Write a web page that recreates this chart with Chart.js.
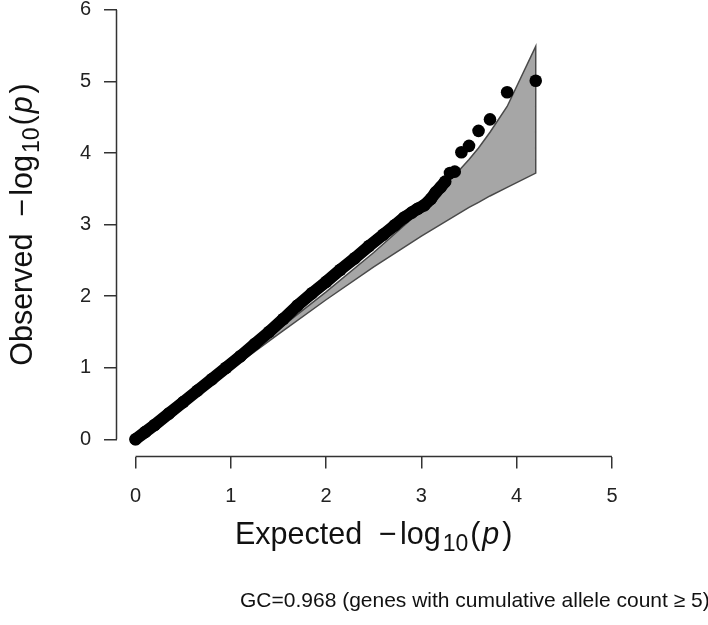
<!DOCTYPE html>
<html>
<head>
<meta charset="utf-8">
<title>QQ plot</title>
<script src="https://cdn.jsdelivr.net/npm/chart.js@4.4.1/dist/chart.umd.min.js"></script>
<style>
  html, body { margin: 0; padding: 0; background: #fff; }
  canvas { display: block; }
</style>
</head>
<body>
<canvas id="qq-plot" width="708" height="625"></canvas>
<script>
const xTicks = [0, 1, 2, 3, 4, 5];
const yTicks = [0, 1, 2, 3, 4, 5, 6];

// bulk of the genes, so many points they merge into one thick line
const denseExpected = [0.00, 0.10, 0.20, 0.35, 0.50, 0.65, 0.80, 0.95, 1.10, 1.25, 1.40, 1.55, 1.70, 1.85, 2.00, 2.15, 2.30, 2.45, 2.60, 2.72, 2.82, 2.90, 2.96, 3.03, 3.10, 3.15, 3.20, 3.25];
const denseObserved = [0.00, 0.10, 0.20, 0.36, 0.52, 0.68, 0.84, 1.00, 1.16, 1.33, 1.50, 1.68, 1.87, 2.04, 2.20, 2.37, 2.53, 2.70, 2.86, 2.99, 3.10, 3.17, 3.22, 3.27, 3.36, 3.45, 3.52, 3.60];

// the separate top hits
const tailExpected = [3.30, 3.35, 3.42, 3.50, 3.60, 3.72, 3.90, 4.20];
const tailObserved = [3.72, 3.74, 4.01, 4.10, 4.31, 4.47, 4.85, 5.01];

// shaded band around the null expectation
const bandExpected = [0, 1.0, 1.5, 2.0, 2.5, 3.0, 3.2, 3.5, 3.6, 3.72, 3.9, 4.2];
const bandUpper = [0, 1.018, 1.535, 2.06, 2.61, 3.2, 3.47, 3.91, 4.07, 4.29, 4.65, 5.49];
const bandLower = [0, 0.982, 1.47, 1.95, 2.41, 2.84, 3.0, 3.24, 3.31, 3.40, 3.52, 3.72];

const footnote = "GC=0.968 (genes with cumulative allele count \u2265 5)";

const fontFamily = "'Liberation Sans', Arial, sans-serif";
Chart.defaults.font.family = fontFamily;

function toPoints(xs, ys) {
  return xs.map((x, i) => ({ x: x, y: ys[i] }));
}

// band outline: along the upper edge, then back along the lower edge
const bandShape = toPoints(bandExpected, bandUpper)
  .concat(toPoints(bandExpected, bandLower).reverse());

// "<word>  -log10(p)" with a lowered 10 and italic p, centred on cx
function drawLogTitle(ctx, word, cx, baseY) {
  const parts = [
    { text: word + "  \u2212", size: 30.5, dy: 0, gap: 3 },
    { text: "log", size: 30.5, dy: 0, gap: 2 },
    { text: "10", size: 23, dy: 7, gap: 2 },
    { text: "(", size: 30.5, dy: 0, gap: 2 },
    { text: "p", size: 30.5, dy: 0, gap: 3, italic: true },
    { text: ")", size: 30.5, dy: 0, gap: 0 }
  ];
  let total = 0;
  parts.forEach(p => {
    ctx.font = (p.italic ? "italic " : "") + p.size + "px " + fontFamily;
    p.w = ctx.measureText(p.text).width;
    total += p.w + p.gap;
  });
  let x = cx - total / 2;
  ctx.textAlign = "left";
  ctx.textBaseline = "alphabetic";
  parts.forEach(p => {
    ctx.font = (p.italic ? "italic " : "") + p.size + "px " + fontFamily;
    ctx.fillText(p.text, x, baseY + p.dy);
    x += p.w + p.gap;
  });
}

// R style axis lines (first to last tick only), axis titles and the note
const axisDecor = {
  id: "axisDecor",
  afterDraw(chart) {
    const { ctx, chartArea } = chart;
    const xs = chart.scales.x;
    const ys = chart.scales.y;
    ctx.save();
    ctx.strokeStyle = "#333";
    ctx.lineWidth = 1.5;
    ctx.beginPath();
    ctx.moveTo(xs.getPixelForValue(xTicks[0]), chartArea.bottom);
    ctx.lineTo(xs.getPixelForValue(xTicks[xTicks.length - 1]), chartArea.bottom);
    ctx.moveTo(chartArea.left, ys.getPixelForValue(yTicks[0]));
    ctx.lineTo(chartArea.left, ys.getPixelForValue(yTicks[yTicks.length - 1]));
    ctx.stroke();

    ctx.fillStyle = "#111";
    drawLogTitle(ctx, "Expected", (chartArea.left + chartArea.right) / 2, 544);

    ctx.save();
    ctx.translate(32, 224.5);
    ctx.rotate(-Math.PI / 2);
    drawLogTitle(ctx, "Observed", 0, 0);
    ctx.restore();

    ctx.font = "21px " + fontFamily;
    ctx.textAlign = "left";
    ctx.textBaseline = "alphabetic";
    ctx.fillText(footnote, 240, 607);
    ctx.restore();
  }
};

function noPadding(s) {
  s.paddingTop = 0;
  s.paddingBottom = 0;
  s.paddingLeft = 0;
  s.paddingRight = 0;
}

const tickGrid = {
  display: true,
  drawOnChartArea: false,
  drawTicks: true,
  tickLength: 12,
  color: "#333",
  lineWidth: 1.5
};

new Chart(document.getElementById("qq-plot"), {
  type: "scatter",
  data: {
    datasets: [
      {
        label: "band",
        data: bandShape,
        showLine: true,
        fill: "shape",
        backgroundColor: "#a6a6a6",
        borderColor: "#4a4a4a",
        borderWidth: 1.5,
        pointRadius: 0,
        order: 3
      },
      {
        label: "observed",
        data: toPoints(denseExpected, denseObserved),
        showLine: true,
        borderColor: "#000",
        borderWidth: 12,
        borderCapStyle: "round",
        borderJoinStyle: "round",
        backgroundColor: "#000",
        pointRadius: 6.3,
        pointBorderWidth: 0,
        order: 2
      },
      {
        label: "top hits",
        data: toPoints(tailExpected, tailObserved),
        backgroundColor: "#000",
        pointRadius: 6.3,
        pointBorderWidth: 0,
        order: 1
      }
    ]
  },
  options: {
    responsive: false,
    animation: false,
    events: [],
    layout: { padding: { left: 0, right: 77, top: 0, bottom: 0 } },
    plugins: {
      legend: { display: false },
      title: { display: false },
      tooltip: { enabled: false }
    },
    scales: {
      x: {
        type: "linear",
        min: -0.2,
        max: 5.2,
        afterBuildTicks: s => { s.ticks = xTicks.map(v => ({ value: v })); },
        afterFit: s => { s.height = 168.5; noPadding(s); },
        grid: tickGrid,
        border: { display: false },
        ticks: { color: "#222", font: { size: 20 }, padding: 16, maxRotation: 0, autoSkip: false }
      },
      y: {
        type: "linear",
        // top of the plot sits a few px below the canvas edge (point overflow)
        min: -0.24,
        max: 6.05,
        afterBuildTicks: s => { s.ticks = yTicks.map(v => ({ value: v })); },
        afterFit: s => { s.width = 116.5; noPadding(s); },
        grid: Object.assign({}, tickGrid, { tickLength: 12.5 }),
        border: { display: false },
        ticks: { color: "#222", font: { size: 20 }, padding: 13, autoSkip: false }
      }
    }
  },
  plugins: [axisDecor]
});
</script>
</body>
</html>
